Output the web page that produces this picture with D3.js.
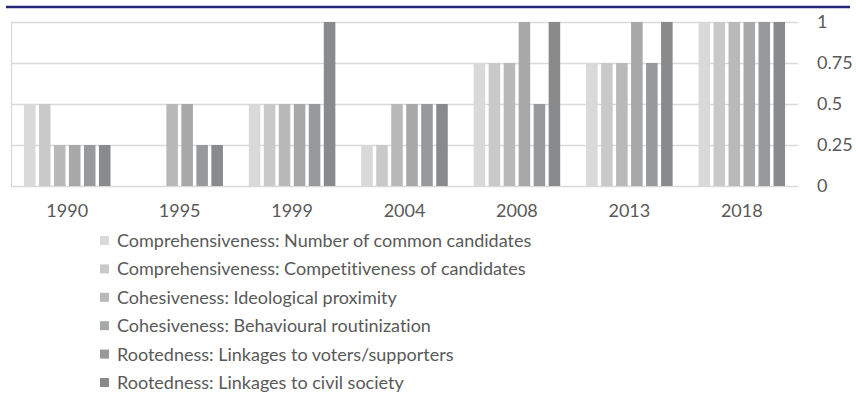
<!DOCTYPE html>
<html><head><meta charset="utf-8">
<script src="https://cdn.jsdelivr.net/npm/d3@7"></script>
<style>body{margin:0;background:#fff}svg{display:block}text{font-variant-ligatures:none;font-feature-settings:"liga" 0}</style>
</head><body>
<script>
const categories = ["1990","1995","1999","2004","2008","2013","2018"];
const seriesNames = [
  "Comprehensiveness: Number of common candidates",
  "Comprehensiveness: Competitiveness of candidates",
  "Cohesiveness: Ideological proximity",
  "Cohesiveness: Behavioural routinization",
  "Rootedness: Linkages to voters/supporters",
  "Rootedness: Linkages to civil society"
];
const numberOfCommonCandidates   = [0.5, 0,   0.5, 0.25, 0.75, 0.75, 1];
const competitivenessOfCandidates= [0.5, 0,   0.5, 0.25, 0.75, 0.75, 1];
const ideologicalProximity       = [0.25,0.5, 0.5, 0.5,  0.75, 0.75, 1];
const behaviouralRoutinization   = [0.25,0.5, 0.5, 0.5,  1,    1,    1];
const linkagesToVoters           = [0.25,0.25,0.5, 0.5,  0.5,  0.75, 1];
const linkagesToCivilSociety     = [0.25,0.25,1,   0.5,  1,    1,    1];
const yTicks = [0, 0.25, 0.5, 0.75, 1];
const yTickLabels = ["0","0.25","0.5","0.75","1"];
const colors = ["#d9d9d9","#c9c9ca","#b9b9ba","#a7a8aa","#98999b","#898a8c"];

const series = [numberOfCommonCandidates, competitivenessOfCandidates, ideologicalProximity,
  behaviouralRoutinization, linkagesToVoters, linkagesToCivilSociety];

(function(){
const W = 856, H = 420;
const svg = d3.select("body").append("svg").attr("width", W).attr("height", H);
const font = "Lato, 'Open Sans', sans-serif";
const fs = 18;

svg.append("line").attr("x1", 6).attr("x2", 850).attr("y1", 7).attr("y2", 7)
  .attr("stroke", "#25257c").attr("stroke-width", 2.4);

const pl = 11, pr = 798, pt = 22, pb = 186;
const x = d3.scaleBand().domain(categories).range([pl, pr]).paddingInner(0).paddingOuter(0);
const y = d3.scaleLinear().domain([0, 1]).range([pb, pt]);
const slot = 15;
const xs = d3.scaleBand().domain(d3.range(6)).range([0, slot * 6]).paddingInner(0.23).paddingOuter(0.115);

// gridlines
svg.append("g").selectAll("line").data(yTicks).join("line")
  .attr("x1", pl).attr("x2", pr)
  .attr("y1", d => Math.round(y(d)) + 0.5).attr("y2", d => Math.round(y(d)) + 0.5)
  .attr("stroke", "#d9d9d9").attr("stroke-width", 1.3);
svg.append("line").attr("x1", pl + 0.5).attr("x2", pl + 0.5).attr("y1", pt).attr("y2", pb)
  .attr("stroke", "#d9d9d9").attr("stroke-width", 1.3);

// bars
const g = svg.append("g");
series.forEach((vals, si) => {
  g.append("g").selectAll("rect").data(vals).join("rect")
    .attr("x", (d, i) => x(categories[i]) + x.bandwidth() / 2 - slot * 3 + xs(si))
    .attr("width", xs.bandwidth())
    .attr("y", d => y(d))
    .attr("height", d => y(0) - y(d))
    .attr("fill", colors[si]);
});

// y axis (right)
const yAxis = d3.axisRight(y).tickValues(yTicks).tickFormat((d, i) => yTickLabels[i]).tickSize(0).tickPadding(0);
const ya = svg.append("g").attr("transform", `translate(817,0)`).call(yAxis);
ya.select(".domain").remove();
ya.selectAll("text").attr("font-family", font).attr("font-size", fs).attr("fill", "#595959").attr("x", 0);

// x axis
const xAxis = d3.axisBottom(x).tickSize(0).tickPadding(0);
const xa = svg.append("g").attr("transform", `translate(0,${pb})`).call(xAxis);
xa.select(".domain").remove();
xa.selectAll("text").attr("font-family", font).attr("font-size", fs).attr("fill", "#595959")
  .attr("dy", null).attr("y", 31);

// legend
const lg = svg.append("g");
seriesNames.forEach((n, i) => {
  const by = 247 + i * 28.4;
  lg.append("rect").attr("x", 100).attr("y", by - 11).attr("width", 9).attr("height", 9).attr("fill", colors[i]);
  lg.append("text").attr("x", 117).attr("y", by).attr("font-family", font).attr("font-size", fs)
    .attr("fill", "#595959").text(n);
});
})();
</script>
</body></html>
